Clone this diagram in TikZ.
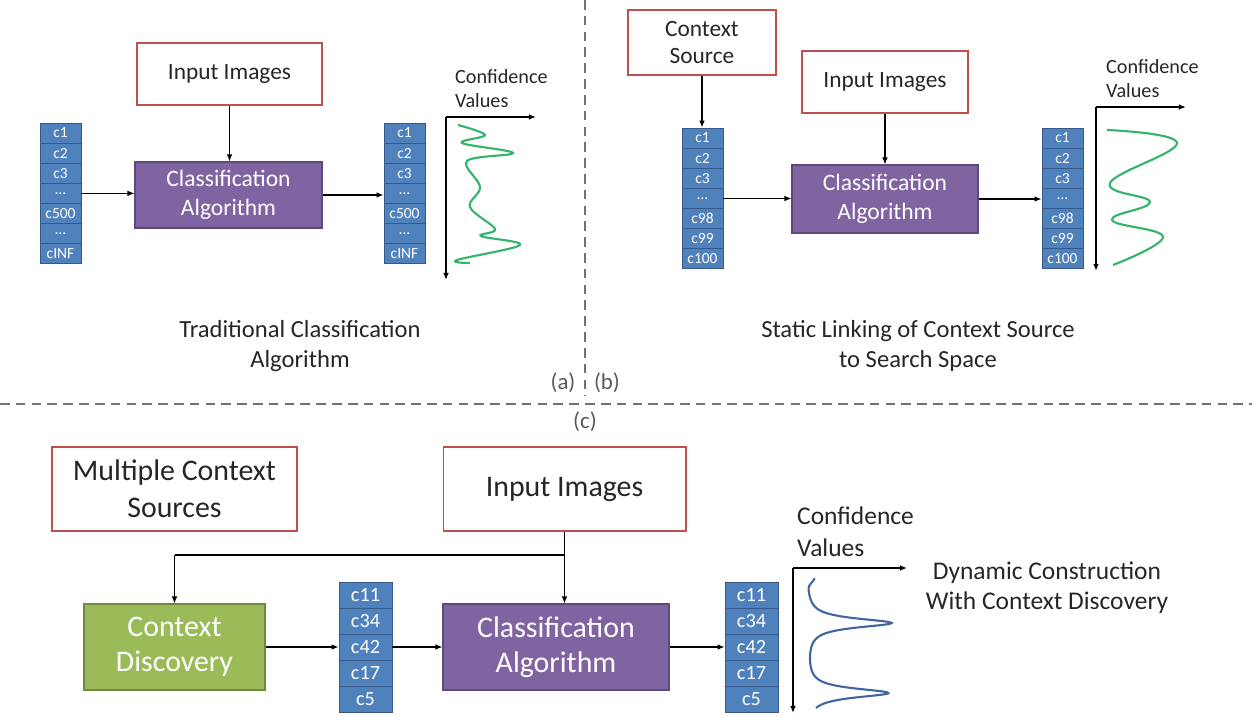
\documentclass[tikz,border=0pt]{standalone}
\usepackage{fontspec}
\setmainfont{Carlito}
\usetikzlibrary{arrows.meta}

\definecolor{boxred}{HTML}{C0504D}
\definecolor{algpurple}{HTML}{8064A2}
\definecolor{algline}{HTML}{5E4A7A}
\definecolor{discgreen}{HTML}{9BBB59}
\definecolor{discline}{HTML}{71893F}
\definecolor{cellblue}{HTML}{4F81BD}
\definecolor{cellline}{HTML}{36598A}
\definecolor{curvegreen}{HTML}{33B36B}
\definecolor{curveblue}{HTML}{41669E}
\definecolor{txt}{HTML}{262626}
\definecolor{labelgray}{HTML}{595959}

\begin{document}
\begin{tikzpicture}[x=0.02cm,y=-0.02cm,>={Latex[length=4pt,width=3.2pt]},
  src/.style={draw=boxred,line width=0.6pt,fill=white,text=txt,align=center,inner sep=0pt},
  alg/.style={draw=algline,line width=0.6pt,fill=algpurple,text=white,align=center,inner sep=0pt},
  disc/.style={alg,draw=discline,fill=discgreen},
  cell/.style={draw=cellline,line width=0.5pt,fill=cellblue,text=white,inner sep=0pt,
    minimum width=0.82cm,minimum height=0.40cm,font=\fontsize{8.8}{9}\selectfont},
  bigcell/.style={cell,minimum width=1.06cm,minimum height=0.52cm,font=\fontsize{11.5}{12}\selectfont},
  link/.style={->,line width=0.7pt,draw=black},
  axis/.style={->,line width=1.1pt},
  caption/.style={text=txt,align=center},
  divider/.style={labelgray!85,line width=0.9pt,dash pattern=on 5.5pt off 3.5pt}]
  \useasboundingbox (0,0) rectangle (1252,717);

  % dividers
  \draw[divider] (585,0) -- (585,396);
  \draw[divider] (0,404) -- (1252,404);
  \node[text=labelgray,font=\fontsize{13}{15}\selectfont] (lblA) at (563,383) {(a)};
  \node[text=labelgray,font=\fontsize{13}{15}\selectfont] (lblB) at (607,383) {(b)};
  \node[text=labelgray,font=\fontsize{13}{15}\selectfont] (lblC) at (585,422) {(c)};

  % (a) traditional classification
  \node[src,minimum width=3.7cm,minimum height=1.24cm,font=\fontsize{13.3}{15}\selectfont]
    (inA) at (229.5,74) {Input Images};
  \node[alg,minimum width=3.74cm,minimum height=1.32cm,font=\fontsize{13.4}{16.4}\selectfont]
    (clsA) at (228.5,195) {Classification\\Algorithm};
  \foreach \lbl [count=\i] in {c1,c2,c3,\dots,c500,\dots,cINF}
    \node[cell] (stkA\i) at (60.5,{112.95+20.1*\i}) {\lbl};
  \foreach \lbl [count=\i] in {c1,c2,c3,\dots,c500,\dots,cINF}
    \node[cell] (outA\i) at (404.5,{112.95+20.1*\i}) {\lbl};
  \draw[link] (inA.south) -- (inA.south |- clsA.north);
  \draw[link] (stkA4.east) -- (stkA4.east -| clsA.west);
  \draw[link] (clsA.east) -- (clsA.east -| outA4.west);
  \coordinate (axA) at (446,117);
  \draw[axis] (axA) -- ++(90,0);
  \draw[axis] (axA) -- ++(0,163);
  \node[anchor=west,align=left,text=txt,font=\fontsize{11.5}{13.6}\selectfont]
    (confA) at (449,89) {Confidence\\Values};
  \draw[curvegreen,line width=1.2pt] plot[smooth,tension=0.6] coordinates {
    (458,125) (485,135) (462,143) (513,153) (467,161) (480,187) (470,207)
    (495,229) (481,236) (520,245) (457,260) (470,263)};
  \node[caption,font=\fontsize{14}{17}\selectfont] (capA) at (300,346)
    {Traditional Classification\\Algorithm};

  % (b) static linking of a context source
  \node[src,minimum width=2.96cm,minimum height=1.3cm,font=\fontsize{13.3}{15.3}\selectfont]
    (ctxB) at (702,42.5) {Context\\Source};
  \node[src,minimum width=3.32cm,minimum height=1.24cm,font=\fontsize{13.3}{15}\selectfont]
    (inB) at (885,82) {Input Images};
  \node[alg,minimum width=3.72cm,minimum height=1.36cm,font=\fontsize{13.4}{16.4}\selectfont]
    (clsB) at (885,199) {Classification\\Algorithm};
  \foreach \lbl [count=\i] in {c1,c2,c3,\dots,c98,c99,c100}
    \node[cell] (stkB\i) at (702.5,{117.93+20.14*\i}) {\lbl};
  \foreach \lbl [count=\i] in {c1,c2,c3,\dots,c98,c99,c100}
    \node[cell] (outB\i) at (1062.5,{117.93+20.14*\i}) {\lbl};
  \draw[link] (ctxB.south) -- (ctxB.south |- stkB1.north);
  \draw[link] (inB.south) -- (inB.south |- clsB.north);
  \draw[link] (stkB4.east) -- (stkB4.east -| clsB.west);
  \draw[link] (clsB.east) -- (clsB.east -| outB4.west);
  \coordinate (axB) at (1096,107);
  \draw[axis] (axB) -- ++(90,0);
  \draw[axis] (axB) -- ++(0,164);
  \node[anchor=west,align=left,text=txt,font=\fontsize{11.5}{13.6}\selectfont]
    (confB) at (1100,78.5) {Confidence\\Values};
  \draw[curvegreen,line width=1.2pt] plot[smooth,tension=0.7] coordinates {
    (1107,130) (1177,143) (1110,183) (1150,202) (1112,220) (1163,237) (1113,265)};
  \node[caption,font=\fontsize{14}{17}\selectfont] (capB) at (918,346)
    {Static Linking of Context Source\\to Search Space};

  % (c) dynamic construction
  \node[src,minimum width=4.9cm,minimum height=1.68cm,font=\fontsize{17}{21}\selectfont]
    (ctxC) at (174.5,489) {Multiple Context\\Sources};
  \node[src,minimum width=4.86cm,minimum height=1.68cm,font=\fontsize{17}{20}\selectfont]
    (inC) at (564.5,489) {Input Images};
  \node[disc,minimum width=3.62cm,minimum height=1.72cm,font=\fontsize{17}{20}\selectfont]
    (discC) at (174.5,647) {Context\\Discovery};
  \node[alg,minimum width=4.52cm,minimum height=1.72cm,font=\fontsize{17}{20}\selectfont]
    (clsC) at (556,647) {Classification\\Algorithm};
  \foreach \lbl [count=\i] in {c11,c34,c42,c17,c5}
    \node[bigcell] (stkC\i) at (365.5,{569+26*\i}) {\lbl};
  \foreach \lbl [count=\i] in {c11,c34,c42,c17,c5}
    \node[bigcell] (outC\i) at (751.5,{569+26*\i}) {\lbl};
  \coordinate (split) at (565,555);
  \draw[link] (inC.south) -- (inC.south |- clsC.north);
  \draw[line width=0.7pt] (split) -- (split -| discC.north);
  \draw[link] (split -| discC.north) -- (discC.north);
  \draw[link] (discC.east) -- (discC.east -| stkC3.west);
  \draw[link] (stkC3.east) -- (stkC3.east -| clsC.west);
  \draw[link] (clsC.east) -- (clsC.east -| outC3.west);
  \coordinate (axC) at (793,568);
  \draw[axis] (axC) -- ++(114,0);
  \draw[axis] (axC) -- ++(0,145);
  \node[anchor=west,align=left,text=txt,font=\fontsize{14.5}{18}\selectfont]
    (confC) at (791,532) {Confidence\\Values};
  \draw[curveblue,line width=1.2pt] plot[domain=578:708,samples=160,smooth,variable=\t]
    ({806+7*exp(-((\t-578)/6)^2)+85/(1+((\t-623)/5.5)^2)+82/(1+((\t-693)/5.5)^2)},\t);
  \node[caption,font=\fontsize{14.5}{17}\selectfont] (capC) at (1047,588)
    {Dynamic Construction\\With Context Discovery};
\end{tikzpicture}
\end{document}
